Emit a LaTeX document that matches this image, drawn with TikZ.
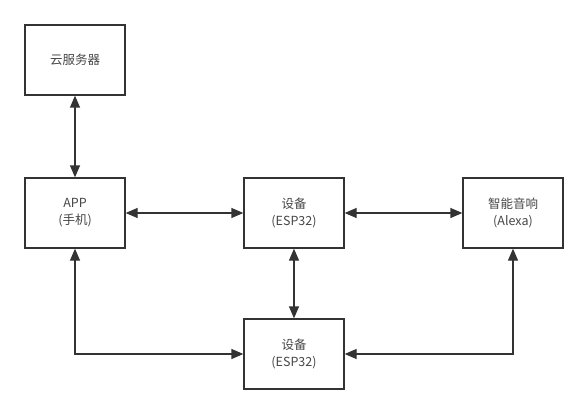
\documentclass[tikz,border=0pt]{standalone}
\usepackage{fontspec}
\setmainfont{Noto Sans CJK SC}
\usepackage{xcolor}
\usetikzlibrary{positioning,arrows.meta}
\definecolor{ink}{HTML}{333333}
\tikzset{
  box/.style ={rectangle, draw=ink, line width=1.3pt, fill=white, align=center,
               minimum width=100pt, minimum height=70pt, inner sep=2pt,
               font=\fontsize{12.5pt}{17pt}\selectfont, text=ink!90},
  link/.style={{Triangle[length=12pt,width=10pt]}-{Triangle[length=12pt,width=10pt]}, draw=ink, line width=1.3pt},
}
\begin{document}
\begin{tikzpicture}[x=1pt,y=-1pt]
\useasboundingbox (0,0) rectangle (588,414);
% --- nodes ---
\node[box] (cloud) at (75,60)   {云服务器};
\node[box] (app)   at (75,213)  {APP\\(手机)};
\node[box] (dev)   at (294,213) {设备\\(ESP32)};
\node[box] (alexa) at (513,213) {智能音响\\(Alexa)};
\node[box] (devb)  at (294,354) {设备\\(ESP32)};
% --- links ---
\draw[link] (cloud.south) -- (app.north);
\draw[link] (app.east) -- (dev.west);
\draw[link] (dev.east) -- (alexa.west);
\draw[link] (dev.south) -- (devb.north);
\draw[link] (app.south) |- (devb.west);
\draw[link] (alexa.south) |- (devb.east);
\end{tikzpicture}
\end{document}
